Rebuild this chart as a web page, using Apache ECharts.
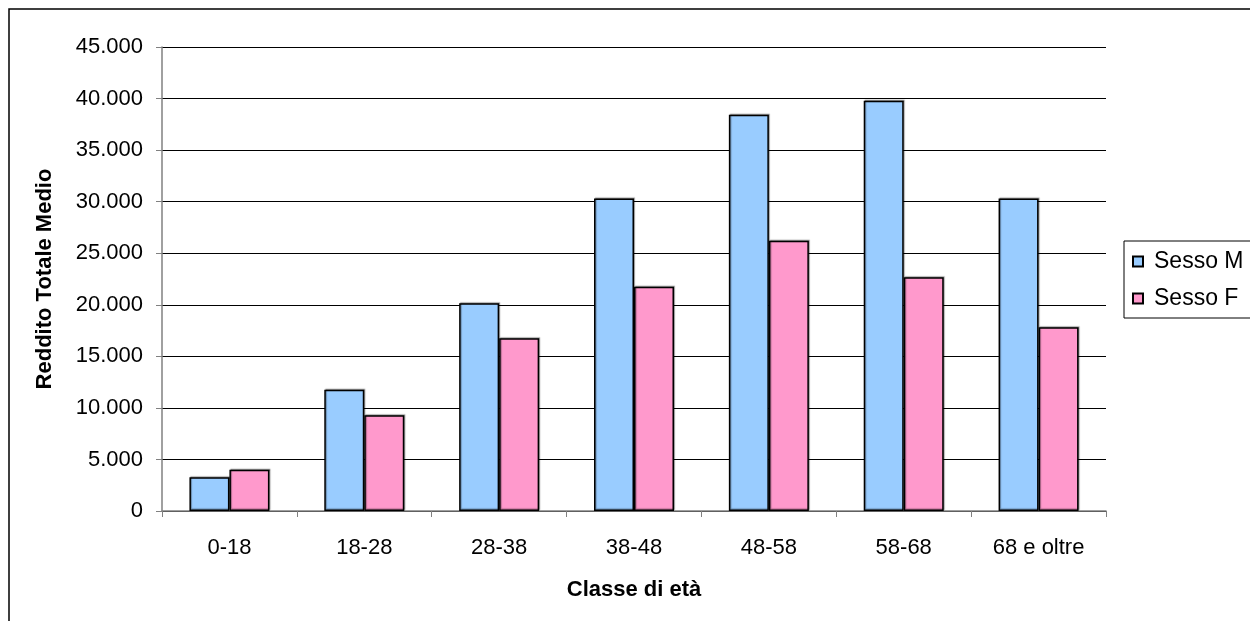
<!DOCTYPE html>
<html>
<head>
<meta charset="utf-8">
<script src="https://cdn.jsdelivr.net/npm/echarts@6/dist/echarts.min.js"></script>
<style>
  html, body { margin: 0; padding: 0; background: #fff; }
  #chart { width: 1250px; height: 621px; }
</style>
</head>
<body>
<div id="chart"></div>
<script>
// classi di età e redditi medi
var classi = ['0-18', '18-28', '28-38', '38-48', '48-58', '58-68', '68 e oltre'];
var sessoM = [3270, 11750, 20150, 30300, 38430, 39790, 30300];
var sessoF = [4010, 9290, 16760, 21760, 26200, 22670, 17830];
var tickMax = 45000;
var tickStep = 5000;

var chart = echarts.init(document.getElementById('chart'));

function fmtMigliaia(v) {
    return String(v).replace(/\B(?=(\d{3})+(?!\d))/g, '.');
}

var fontBase = 'Liberation Sans, Arial, sans-serif';

var option = {
    animation: false,
    textStyle: { fontFamily: fontBase },
    graphic: [{
        type: 'rect',
        shape: { x: 9, y: 9, width: 1400, height: 800 },
        style: { fill: null, stroke: '#000', lineWidth: 1.5 },
        silent: true
    }],
    grid: { left: 162, right: 144, top: 47, bottom: 110 },
    legend: {
        orient: 'vertical',
        left: 1124,
        top: 241,
        padding: [9, 40, 8, 8],
        itemGap: 14,
        itemWidth: 10,
        itemHeight: 10,
        icon: 'rect',
        borderColor: '#000',
        borderWidth: 1,
        textStyle: { fontSize: 23, color: '#000', fontFamily: fontBase, padding: [0, 0, 0, 6] },
        data: ['Sesso M', 'Sesso F']
    },
    xAxis: {
        type: 'category',
        data: classi,
        name: 'Classe di età',
        nameLocation: 'middle',
        nameGap: 68,
        nameTextStyle: { fontSize: 22, fontWeight: 'bold', color: '#000' },
        axisLine: { lineStyle: { color: '#808080', width: 1.5 } },
        axisTick: { show: true, length: 6, lineStyle: { color: '#808080' } },
        axisLabel: { fontSize: 22, color: '#000', margin: 26 },
        splitLine: { show: false }
    },
    yAxis: {
        type: 'value',
        min: 0,
        max: tickMax,
        interval: tickStep,
        name: 'Reddito Totale Medio',
        nameLocation: 'middle',
        nameRotate: 90,
        nameGap: 106,
        nameTextStyle: { fontSize: 22, fontWeight: 'bold', color: '#000' },
        axisLine: { show: true, lineStyle: { color: '#808080', width: 1.5 } },
        axisTick: { show: true, length: 6, lineStyle: { color: '#808080' } },
        axisLabel: { fontSize: 22, color: '#000', margin: 19, formatter: fmtMigliaia },
        splitLine: { lineStyle: { color: '#000', width: 1.2 } }
    },
    series: [{
        name: 'Sesso M',
        type: 'bar',
        data: sessoM,
        barWidth: 40,
        barGap: '0%',
        itemStyle: {
            color: '#99CCFF',
            borderColor: '#000',
            borderWidth: 1.5,
            shadowColor: 'rgba(0,0,0,0.35)',
            shadowOffsetX: 1,
            shadowOffsetY: -1,
            shadowBlur: 1
        }
    }, {
        name: 'Sesso F',
        type: 'bar',
        data: sessoF,
        barWidth: 40,
        barGap: '0%',
        itemStyle: {
            color: '#FF99CC',
            borderColor: '#000',
            borderWidth: 1.5,
            shadowColor: 'rgba(0,0,0,0.35)',
            shadowOffsetX: 1,
            shadowOffsetY: -1,
            shadowBlur: 1
        }
    }]
};

chart.setOption(option);
</script>
</body>
</html>
